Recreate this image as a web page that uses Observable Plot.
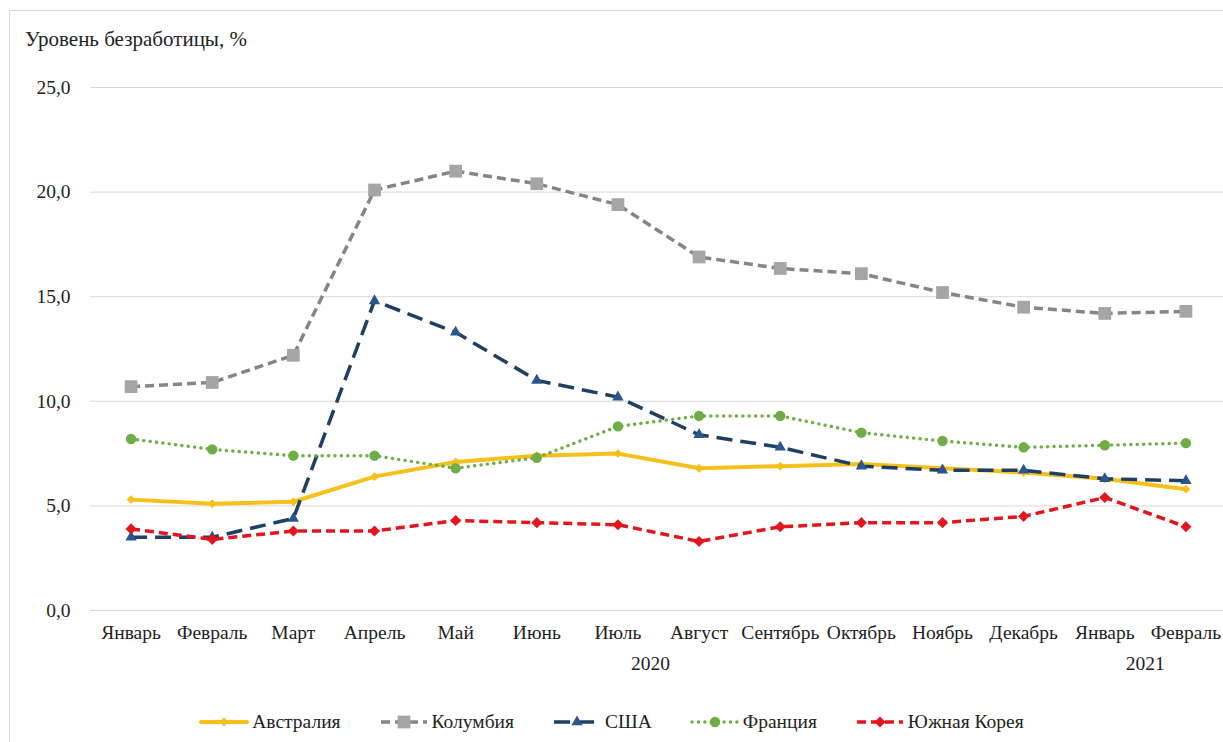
<!DOCTYPE html>
<html>
<head>
<meta charset="utf-8">
<script src="https://cdn.jsdelivr.net/npm/d3@7"></script>
<script src="https://cdn.jsdelivr.net/npm/@observablehq/plot@0.6"></script>
<style>
  html, body { margin: 0; padding: 0; background: #fff; }
  #wrap { position: relative; width: 1223px; height: 742px; overflow: hidden; font-family: "Liberation Serif", "Times New Roman", serif; color: #222; }
  #frame { position: absolute; left: 9px; top: 10px; width: 1230px; height: 760px; border: 1px solid #d9d9d9; box-sizing: border-box; }
  #title { position: absolute; left: 25px; top: 27px; font-size: 21px; line-height: 24px; }
  #chart { position: absolute; left: 0; top: 60px; }
  #legend { position: absolute; left: 0; width: 1223px; top: 710px; display: flex; justify-content: center; gap: 38px; font-size: 19.5px; line-height: 24px; }
  .item { display: flex; align-items: center; gap: 3px; }
</style>
</head>
<body>
<div id="wrap">
  <div id="frame"></div>
  <div id="title">Уровень безработицы, %</div>
  <div id="chart"></div>
  <div id="legend"></div>
</div>
<script>
const months = ["Январь","Февраль","Март","Апрель","Май","Июнь","Июль","Август","Сентябрь","Октябрь","Ноябрь","Декабрь","Январь","Февраль"];
const years = ["2020", "2021"];
const yearPos = [6.4, 12.5];
const yTicks = [0, 5, 10, 15, 20, 25];

const seriesNames = ["Австралия", "Колумбия", "США", "Франция", "Южная Корея"];
const australia = [5.3, 5.1, 5.2, 6.4, 7.1, 7.4, 7.5, 6.8, 6.9, 7.0, 6.8, 6.6, 6.3, 5.8];
const colombia  = [10.7, 10.9, 12.2, 20.1, 21.0, 20.4, 19.4, 16.9, 16.35, 16.1, 15.2, 14.5, 14.2, 14.3];
const usa       = [3.5, 3.5, 4.4, 14.8, 13.3, 11.0, 10.2, 8.4, 7.8, 6.9, 6.7, 6.7, 6.3, 6.2];
const france    = [8.2, 7.7, 7.4, 7.4, 6.8, 7.3, 8.8, 9.3, 9.3, 8.5, 8.1, 7.8, 7.9, 8.0];
const korea     = [3.9, 3.4, 3.8, 3.8, 4.3, 4.2, 4.1, 3.3, 4.0, 4.2, 4.2, 4.5, 5.4, 4.0];

const styles = [
  { line: "#f5c01c", mark: "#f5c01c", width: 4, dash: null, cap: "round", symbol: "diamond2", r: 4 },
  { line: "#858585", mark: "#a5a5a5", width: 3.5, dash: "9,5", cap: "butt", symbol: "square", r: 7.2 },
  { line: "#1f3f63", mark: "#2b5591", width: 3.5, dash: "16,8", cap: "butt", symbol: "triangle", r: 4.2 },
  { line: "#70ad47", mark: "#70ad47", width: 3.4, dash: "0.1,6.3", cap: "round", symbol: "circle", r: 5.2 },
  { line: "#e3161d", mark: "#e3161d", width: 3.5, dash: "9,5", cap: "butt", symbol: "diamond2", r: 5 }
];
const valuesList = [australia, colombia, usa, france, korea];
const series = seriesNames.map((name, k) => ({ name, values: valuesList[k], style: styles[k] }));

const marks = [
  Plot.gridY(yTicks, { stroke: "#d9d9d9", strokeOpacity: 1, strokeWidth: 1 }),
  Plot.axisY({ ticks: yTicks, tickSize: 0, tickPadding: 20, tickFormat: d => d.toFixed(1).replace(".", ","), label: null, fill: "#222" }),
  Plot.axisX({ ticks: d3.range(months.length), tickSize: 0, tickPadding: 15, tickFormat: i => months[i], label: null, fill: "#222" }),
  Plot.text(years, { x: (d, i) => yearPos[i], text: d => d, frameAnchor: "bottom", dy: 59, fill: "#222" })
];
for (const s of series) {
  const data = s.values.map((v, i) => ({ i, v }));
  marks.push(Plot.line(data, { x: "i", y: "v", stroke: s.style.line, strokeWidth: s.style.width, strokeDasharray: s.style.dash, strokeLinecap: s.style.cap, strokeLinejoin: "round" }));
  marks.push(Plot.dot(data, { x: "i", y: "v", symbol: s.style.symbol, r: s.style.r, fill: s.style.mark, stroke: "none" }));
}

const chart = Plot.plot({
  width: 1223,
  height: 620,
  marginLeft: 90,
  marginRight: -3,
  marginTop: 27,
  marginBottom: 70,
  x: { type: "linear", domain: [-0.5, 13.5] },
  y: { domain: [0, 25] },
  style: { fontFamily: "'Liberation Serif', 'Times New Roman', serif", fontSize: "19.5px", background: "transparent", overflow: "visible" },
  marks
});
document.getElementById("chart").appendChild(chart);

const legend = document.getElementById("legend");
for (const s of series) {
  const st = s.style;
  const item = document.createElement("div");
  item.className = "item";
  const svg = d3.create("svg").attr("width", 50).attr("height", 18);
  svg.append("line").attr("x1", 2).attr("x2", 48).attr("y1", 9).attr("y2", 9)
    .attr("stroke", st.line).attr("stroke-width", st.width)
    .attr("stroke-dasharray", st.dash).attr("stroke-linecap", st.cap);
  const sym = { circle: d3.symbolCircle, square: d3.symbolSquare, triangle: d3.symbolTriangle, diamond2: d3.symbolDiamond2 }[st.symbol];
  svg.append("path").attr("transform", "translate(25,9)")
    .attr("d", d3.symbol(sym, Math.PI * st.r * st.r)()).attr("fill", st.mark);
  item.appendChild(svg.node());
  const label = document.createElement("span");
  label.textContent = s.name;
  item.appendChild(label);
  legend.appendChild(item);
}
</script>
</body>
</html>
